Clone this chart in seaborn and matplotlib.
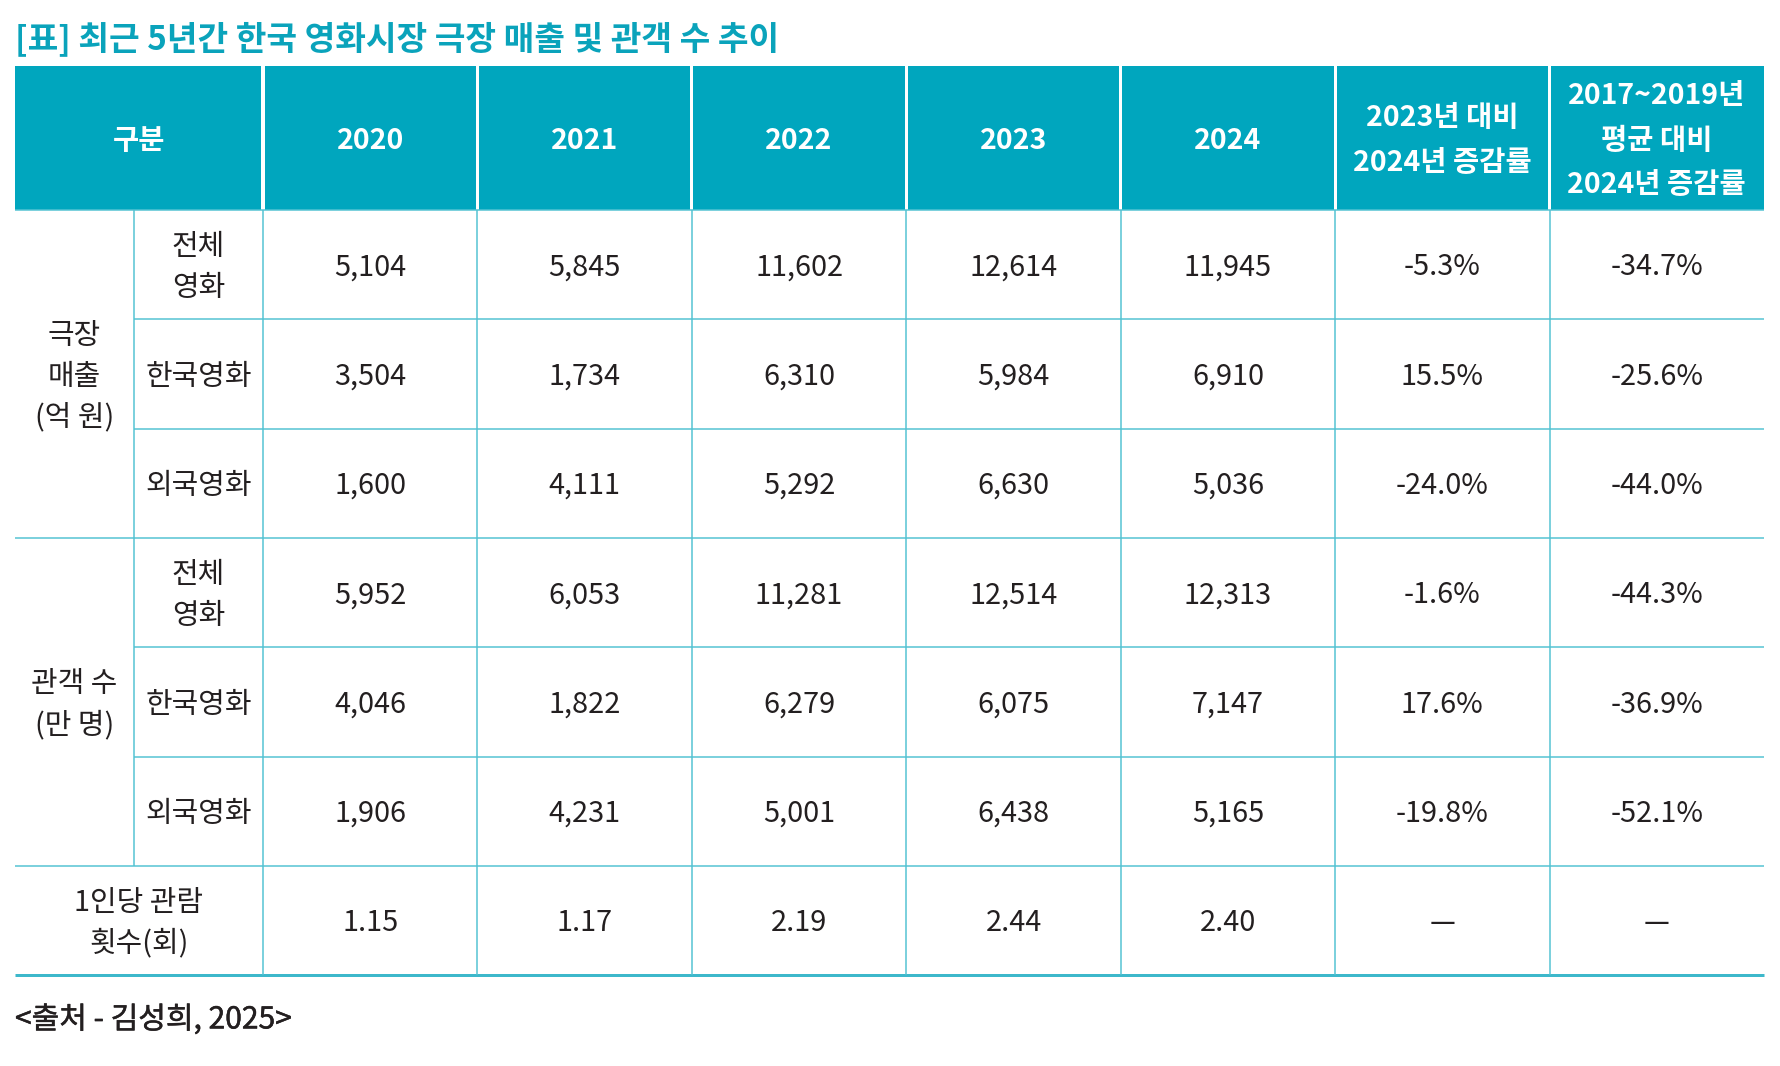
import numpy as np
import matplotlib
matplotlib.use("Agg")
import matplotlib.pyplot as plt
import matplotlib.patheffects as pe
import seaborn as sns
from matplotlib.colors import ListedColormap
from matplotlib.patches import Rectangle

# -----------------------------
# Données
# -----------------------------
title = "[표] 최근 5년간 한국 영화시장 극장 매출 및 관객 수 추이"
source = "<출처 - 김성희, 2025>"

years = ["2020", "2021", "2022", "2023", "2024"]
extra_headers = ["2023년 대비\n2024년 증감률", "2017~2019년\n평균 대비\n2024년 증감률"]
corner_header = "구분"

groups = ["극장\n매출\n(억 원)", "관객 수\n(만 명)"]
sub_labels = ["전체\n영화", "한국영화", "외국영화"]
last_label = "1인당 관람\n횟수(회)"

sales_total = [5104, 5845, 11602, 12614, 11945]
sales_kor = [3504, 1734, 6310, 5984, 6910]
sales_for = [1600, 4111, 5292, 6630, 5036]
sales_yoy = [-5.3, 15.5, -24.0]
sales_vs_avg = [-34.7, -25.6, -44.0]

aud_total = [5952, 6053, 11281, 12514, 12313]
aud_kor = [4046, 1822, 6279, 6075, 7147]
aud_for = [1906, 4231, 5001, 6438, 5165]
aud_yoy = [-1.6, 17.6, -19.8]
aud_vs_avg = [-44.3, -36.9, -52.1]

per_capita = [1.15, 1.17, 2.19, 2.44, 2.40]
no_value = "—"

# -----------------------------
# Style
# -----------------------------
W, H, DPI = 1780, 1066, 100
teal = "#00A6BE"
title_teal = "#0AA3BB"
line_teal = "#52C2D2"
dark = "#231F20"

sns.set_theme(style="white")
plt.rcParams["font.family"] = ["Noto Sans CJK KR", "DejaVu Sans"]

# layout (pixels)
left, right = 15, 1764
sub_x, data_x = 134, 263
col_w = (right - data_x) / 7
col_edges = [data_x + col_w * i for i in range(8)]
head_top, head_bot = 66, 210
row_h = 109.3
row_edges = [head_bot + row_h * i for i in range(8)]

px = 72 / DPI          # pixels -> points
body_size = 20.8
head_size = 20.5
mid = 0.37             # centre optique des glyphes (en em, au-dessus de la ligne de base)


def em(size):
    return size * DPI / 72


# -----------------------------
# Tableau des valeurs
# -----------------------------
cells = []
for vals, yoy, avg in [(sales_total, sales_yoy[0], sales_vs_avg[0]),
                       (sales_kor, sales_yoy[1], sales_vs_avg[1]),
                       (sales_for, sales_yoy[2], sales_vs_avg[2]),
                       (aud_total, aud_yoy[0], aud_vs_avg[0]),
                       (aud_kor, aud_yoy[1], aud_vs_avg[1]),
                       (aud_for, aud_yoy[2], aud_vs_avg[2])]:
    cells.append([f"{v:,}" for v in vals] + [f"{yoy:.1f}%", f"{avg:.1f}%"])
cells.append([f"{v:.2f}" for v in per_capita] + [no_value, no_value])
cells = np.array(cells)

fig = plt.figure(figsize=(W / DPI, H / DPI), dpi=DPI)
fig.patch.set_facecolor("white")

ax_body = fig.add_axes([data_x / W, 1 - row_edges[-1] / H,
                        (right - data_x) / W, (row_edges[-1] - head_bot) / H])
sns.heatmap(np.zeros(cells.shape), ax=ax_body, cmap=ListedColormap(["white"]),
            cbar=False, annot=cells, fmt="", xticklabels=False, yticklabels=False,
            annot_kws={"fontsize": body_size, "color": dark, "va": "baseline"})
ax_body.set_axis_off()
# descendre la ligne de base pour centrer les chiffres dans la cellule
for t in ax_body.texts:
    x, y = t.get_position()
    t.set_position((x, y + mid * em(body_size) / row_h))

ax = fig.add_axes([0, 0, 1, 1])
ax.set_zorder(2)
ax.patch.set_alpha(0)
ax.set_xlim(0, W)
ax.set_ylim(H, 0)
ax.set_axis_off()


def put(x, yc, text, size, spacing, **kw):
    lines = text.split("\n")
    n = len(lines)
    for i, line in enumerate(lines):
        yl = yc + (i - (n - 1) / 2) * spacing
        ax.text(x, yl + mid * em(size), line, ha="center", va="baseline",
                fontsize=size, **kw)


# -----------------------------
# En-tête
# -----------------------------
head_edges = [left] + col_edges
head_texts = [corner_header] + years + extra_headers
gap = 1.6
for i, txt in enumerate(head_texts):
    x0 = head_edges[i] + (gap if i > 0 else 0)
    x1 = head_edges[i + 1] - (gap if i < len(head_texts) - 1 else 0)
    ax.add_patch(Rectangle((x0, head_top), x1 - x0, head_bot - head_top,
                           facecolor=teal, edgecolor="none"))
    put((head_edges[i] + head_edges[i + 1]) / 2, (head_top + head_bot) / 2,
        txt, head_size, 44.5, color="white", fontweight="bold")

# -----------------------------
# Libellés des lignes
# -----------------------------
for g, label in enumerate(groups):
    y0, y1 = row_edges[g * 3], row_edges[g * 3 + 3]
    put((left + sub_x) / 2, (y0 + y1) / 2, label, body_size, 41, color=dark)
    for s, sub in enumerate(sub_labels):
        r = g * 3 + s
        put((sub_x + data_x) / 2, (row_edges[r] + row_edges[r + 1]) / 2, sub,
            body_size, 41, color=dark)
put((left + data_x) / 2, (row_edges[6] + row_edges[7]) / 2, last_label,
    body_size, 41, color=dark)

# -----------------------------
# Lignes
# -----------------------------
lw = 1.5 * px
ax.hlines(row_edges[0], left, right, color=line_teal, lw=lw)
for r in range(1, 7):
    x_start = left if r in (3, 6) else sub_x
    ax.hlines(row_edges[r], x_start, right, color=line_teal, lw=lw)
ax.hlines(row_edges[7], left, right, color="#3DB8CB", lw=3 * px)
ax.vlines(sub_x, row_edges[0], row_edges[6], color=line_teal, lw=lw)
for x in col_edges[:-1]:
    ax.vlines(x, row_edges[0], row_edges[7], color=line_teal, lw=lw)

# -----------------------------
# Titre et source
# -----------------------------
ax.text(left, 36 + 0.38 * em(24), title, ha="left", va="baseline",
        color=title_teal, fontsize=24, fontweight="bold")
ax.text(left, 1017 + 0.38 * em(21.6), source, ha="left", va="baseline",
        color=dark, fontsize=21.6,
        path_effects=[pe.withStroke(linewidth=0.35, foreground=dark)])

fig.savefig("out.png", dpi=DPI, facecolor="white")
